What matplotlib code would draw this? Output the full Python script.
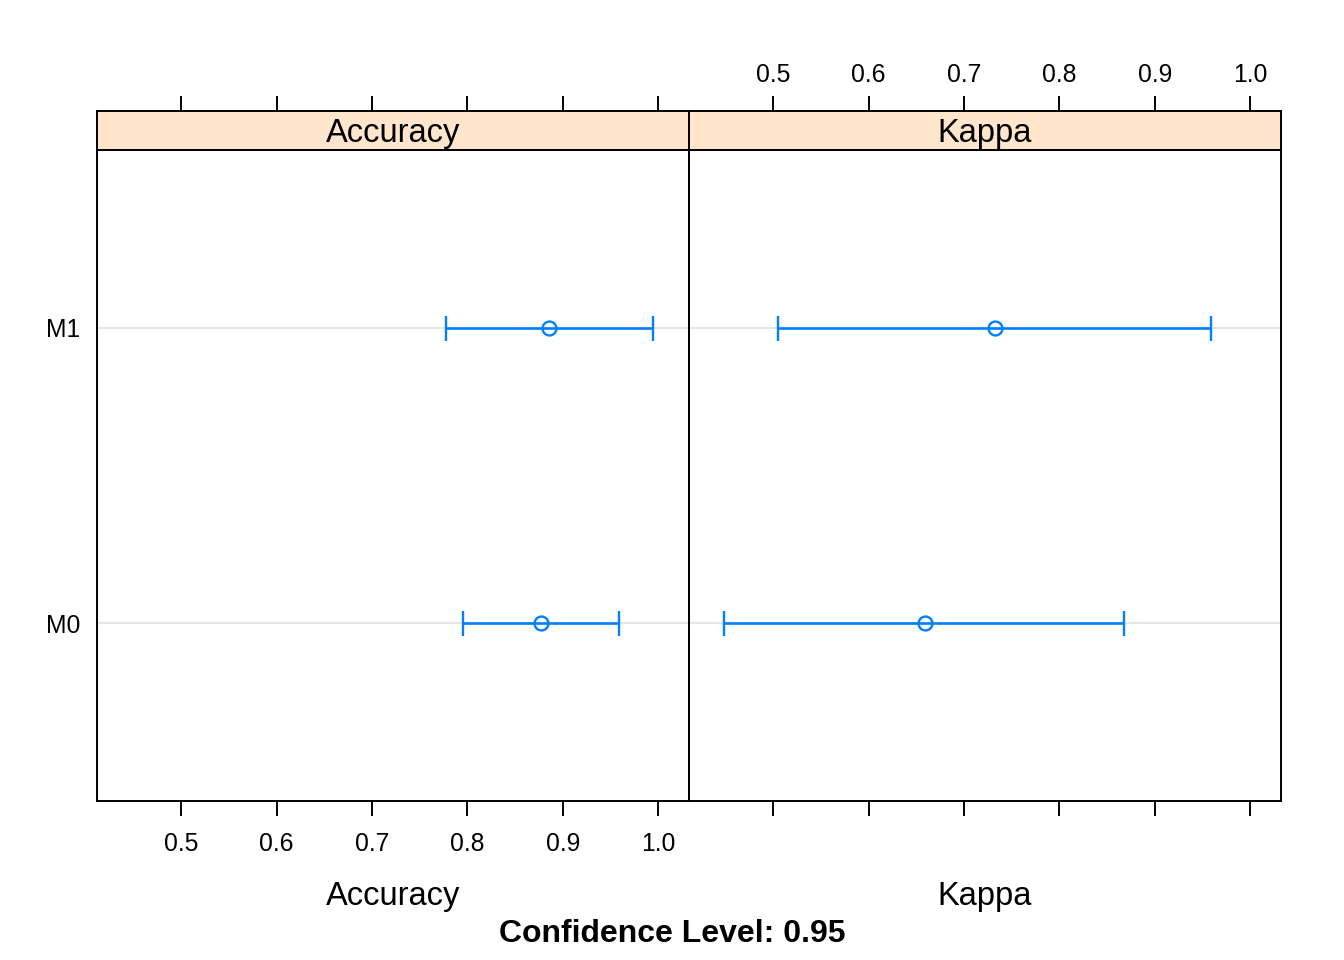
import numpy as np
import matplotlib
matplotlib.use("Agg")
import matplotlib.pyplot as plt

plt.rcParams['font.family'] = ['Liberation Sans', 'DejaVu Sans']

# data
models = ["M0", "M1"]
metrics = ["Accuracy", "Kappa"]
estimate = {"Accuracy": [0.877, 0.885], "Kappa": [0.659, 0.732]}
lower = {"Accuracy": [0.795, 0.777], "Kappa": [0.449, 0.505]}
upper = {"Accuracy": [0.959, 0.994], "Kappa": [0.868, 0.959]}
ticks = [0.5, 0.6, 0.7, 0.8, 0.9, 1.0]
tick_labels = ["0.5", "0.6", "0.7", "0.8", "0.9", "1.0"]
conf_level = 0.95

blue = "#0080ff"
strip_col = "#ffe5cc"
xlim = (0.412, 1.032)
ylim = (0.4, 2.6)
tick_fs = 17.8

fig = plt.figure(figsize=(13.44, 9.6), dpi=100)
W, H = 1344.0, 960.0

panel_x = [97, 689]
panel_w = 592
for i, m in enumerate(metrics):
    x0 = panel_x[i] / W
    ax = fig.add_axes([x0, 1 - 801 / H, panel_w / W, 651 / H])
    st = fig.add_axes([x0, 1 - 150 / H, panel_w / W, 39 / H])

    ypos = np.arange(1, len(models) + 1)
    for y in ypos:
        ax.axhline(y, color="#e6e6e6", lw=1.5, zorder=1)
    ax.errorbar(estimate[m], ypos,
                xerr=[np.array(estimate[m]) - np.array(lower[m]),
                      np.array(upper[m]) - np.array(estimate[m])],
                fmt="o", mfc="none", mec=blue, ms=10, mew=1.7,
                ecolor=blue, elinewidth=1.9, capsize=9, capthick=1.9,
                color=blue, zorder=3)
    ax.set_xlim(xlim)
    ax.set_ylim(ylim)
    ax.set_xticks(ticks)
    ax.tick_params(axis="x", direction="out", length=11, width=1.4,
                   labelsize=tick_fs, pad=11, top=False)
    if i == 0:
        ax.set_xticklabels(tick_labels)
        ax.set_yticks(ypos)
        ax.set_yticklabels(models)
        ax.tick_params(axis="y", length=0, labelsize=tick_fs, pad=12)
    else:
        ax.set_xticklabels([])
        ax.set_yticks([])
    for s in ax.spines.values():
        s.set_linewidth(1.4)

    st.set_facecolor(strip_col)
    st.set_xlim(xlim)
    st.set_yticks([])
    st.set_xticks(ticks)
    st.tick_params(axis="x", bottom=False, labelbottom=False, top=True,
                   direction="out", length=11, width=1.4, labelsize=tick_fs, pad=6,
                   labeltop=(i == 1))
    if i == 1:
        st.set_xticklabels(tick_labels)
    st.text(0.5, 0.42, m, transform=st.transAxes, ha="center", va="center",
            fontsize=23.5)
    for s in st.spines.values():
        s.set_linewidth(1.4)

    # x axis title under each panel
    fig.text(x0 + panel_w / W / 2, 1 - 897 / H, m, ha="center", va="center",
             fontsize=23.5)

fig.text(0.5, 1 - 934 / H, "Confidence Level: %.2f" % conf_level,
         ha="center", va="center", fontsize=23, fontweight="bold")

fig.savefig("out.png", dpi=100)
